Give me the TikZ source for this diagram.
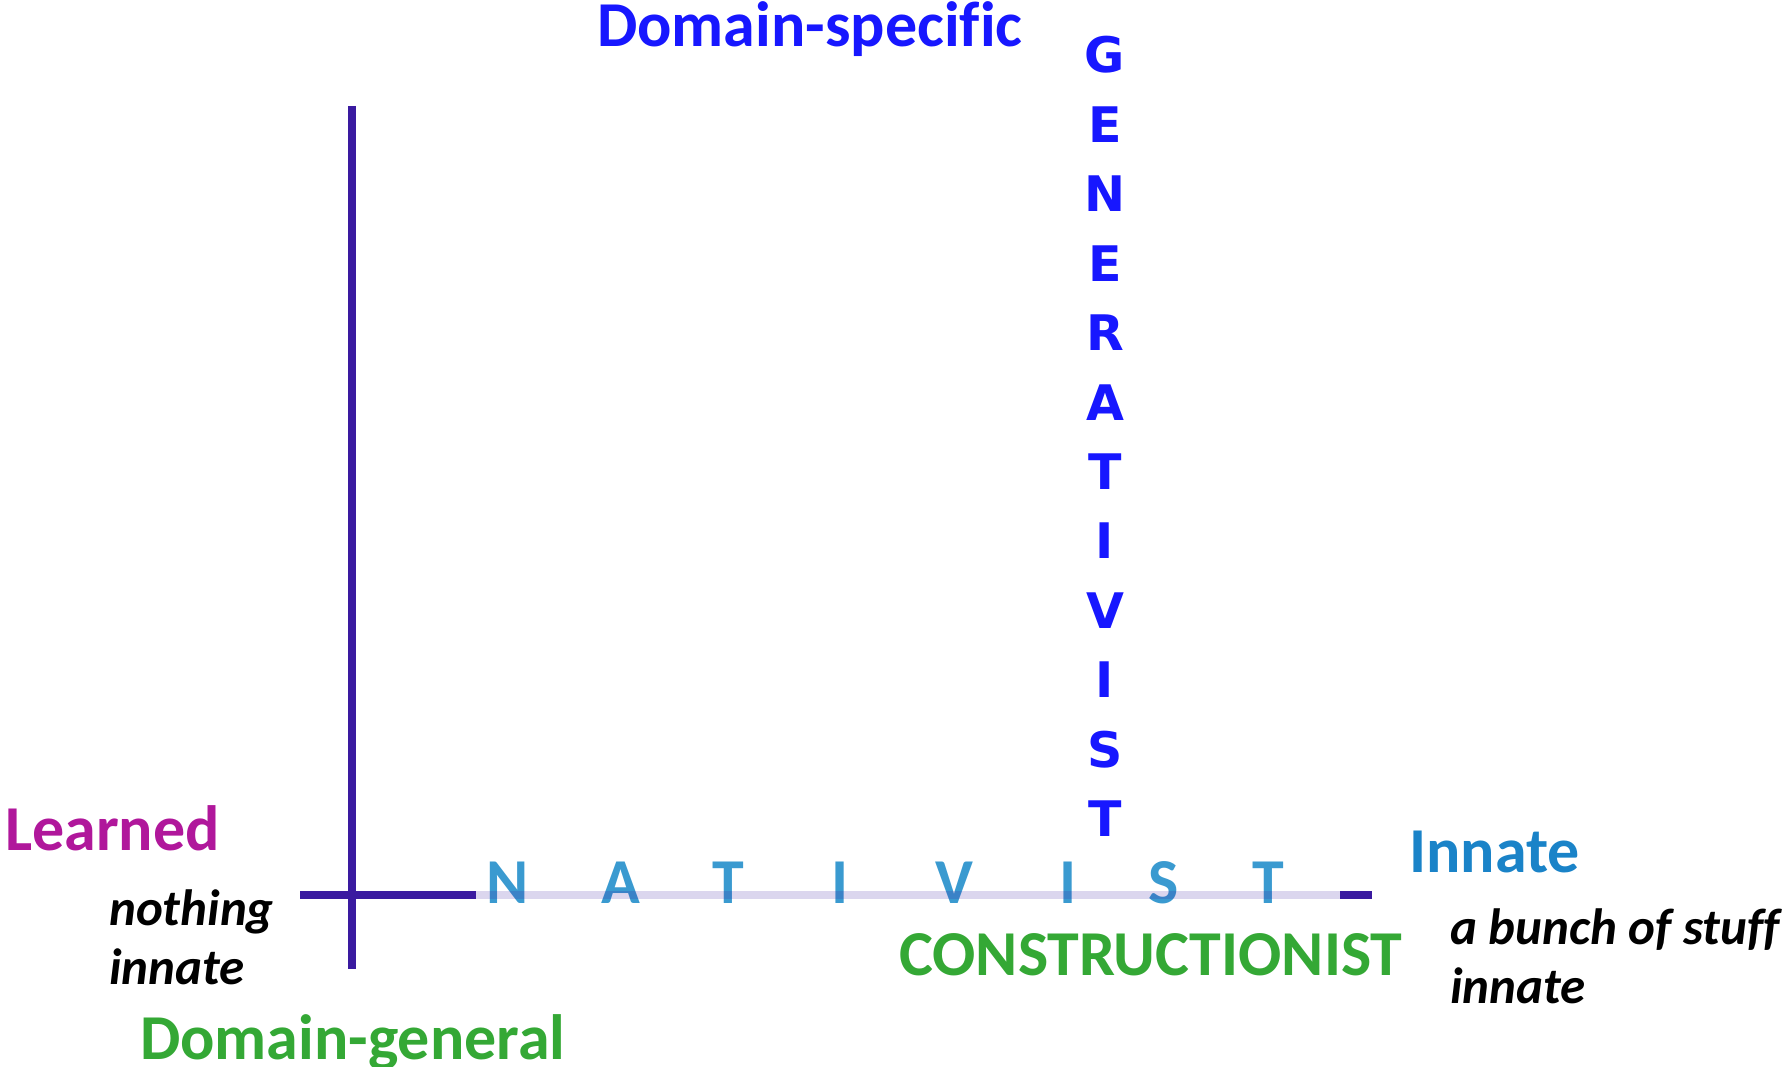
\documentclass[tikz,border=0pt]{standalone}
\usepackage{fontspec}
\setmainfont{Carlito}[Ligatures=NoCommon]
\newfontfamily\wideletters{DejaVu Sans}
\usetikzlibrary{positioning}

\definecolor{axispurple}{HTML}{3A1AA0}
\definecolor{specblue}{HTML}{1717FF}
\definecolor{learnmagenta}{HTML}{B0179B}
\definecolor{innateblue}{HTML}{1A83C8}
\definecolor{nativblue}{HTML}{3A9AD0}
\definecolor{constgreen}{HTML}{34A835}

\begin{document}
\begin{tikzpicture}[
    x=1pt, y=-1pt,
    axis/.style={draw=axispurple, line width=8pt},
    fadedaxis/.style={draw=axispurple, line width=8pt, opacity=0.18},
    poletext/.style={inner sep=0pt, font=\bfseries\fontsize{64}{77}\selectfont},
    remark/.style={inner sep=0pt, align=left, font=\bfseries\itshape\fontsize{51}{59}\selectfont},
    nativletter/.style={inner sep=0pt, anchor=base, text=nativblue, font=\bfseries\fontsize{64}{77}\selectfont},
    generletter/.style={inner sep=0pt, anchor=base, text=specblue, font=\wideletters\bfseries\fontsize{49}{59}\selectfont}
]
\useasboundingbox (0,0) rectangle (1783,1067);

% Axis end points
\coordinate (vtop) at (352,106);
\coordinate (vbot) at (352,969);
\coordinate (hleft) at (300,895);
\coordinate (hfade) at (476,895);
\coordinate (hfadeend) at (1340,895);
\coordinate (hright) at (1372,895);

% NATIVIST along the horizontal axis
\foreach \x/\l [count=\i] in {508/N,621/A,728/T,840/I,954/V,1068/I,1164/S,1268/T}
    \node[nativletter] (nat\i) at (\x,903) {\l};

% Axes
\draw[fadedaxis] (hfade) -- (hfadeend);
\draw[axis] (hleft) -- (hfade);
\draw[axis] (hfadeend) -- (hright);
\draw[axis] (vtop) -- (vbot);

% GENERATIVIST down the column
\foreach \l [count=\i] in {G,E,N,E,R,A,T,I,V,I,S,T}
    \node[generletter] (gen\i) at ({1105},{73+69.4*(\i-1)}) {\l};

% Pole labels
\node[poletext, text=specblue, anchor=base west] (dspecific) at (597,47) {Domain-specific};
\node[poletext, text=learnmagenta, anchor=base west] (learned) at (5,850) {Learned};
\node[poletext, text=innateblue, anchor=base west] (innate) at (1409,872) {Innate};
\node[poletext, text=constgreen, anchor=base west] (construct) at (899,975) {CONSTRUCTIONIST};
\node[poletext, text=constgreen, anchor=base west] (dgeneral) at (140,1059) {Domain-general};

% Remarks (base is the last line)
\node[remark, anchor=base west] (nothing) at (109,984) {nothing\\innate};
\node[remark, anchor=base west] (bunch) at (1450,1003) {a bunch of stuff\\innate};
\end{tikzpicture}
\end{document}
